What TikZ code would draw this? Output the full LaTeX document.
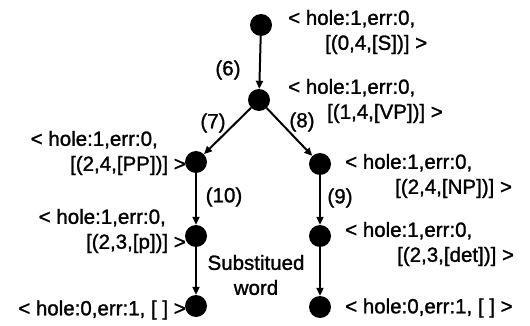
\documentclass[tikz,border=0pt]{standalone}
\usepackage{fontspec}
\setmainfont{Liberation Sans}[FakeBold=1.3]
\usetikzlibrary{arrows.meta}

\begin{document}
\begin{tikzpicture}[x=1pt,y=-1pt,
  every node/.style={font=\fontsize{20.5}{25}\selectfont,inner sep=0pt},
  state/.style={circle,fill=black,minimum size=22pt},
  edge/.style={-{Triangle[length=8pt,width=7pt]},line width=2pt}]
\useasboundingbox (0,0) rectangle (530,326);
% states
\node[state] (s) at (261,25) {};
\node[state] (vp) at (259,100) {};
\node[state] (pp) at (196,162) {};
\node[state] (p) at (196,236) {};
\node[state] (lw) at (196,306) {};
\node[state] (np) at (320,164) {};
\node[state] (det) at (320,236) {};
\node[state] (rw) at (320,307) {};
% state labels
\node[anchor=west,align=left] (ls) at (288,32) {< hole:1,err:0,\\\hspace*{37pt}[(0,4,[S])] >};
\node[anchor=west,align=left] (lvp) at (288,101) {< hole:1,err:0,\\\hspace*{39pt}[(1,4,[VP])] >};
\node[anchor=east,align=right] (lpp) at (186,153) {< hole:1,err:0,\hspace*{28pt}\\{}[(2,4,[PP])] >};
\node[anchor=east,align=right] (lp) at (186,231) {< hole:1,err:0,\hspace*{20pt}\\{}[(2,3,[p])] >};
\node[anchor=east] (llw) at (186,310) {< hole:0,err:1, [ ] >};
\node[anchor=west,align=left] (lnp) at (345,176) {< hole:1,err:0,\\\hspace*{50pt}[(2,4,[NP])] >};
\node[anchor=west,align=left] (ldet) at (345,244) {< hole:1,err:0,\\\hspace*{52pt}[(2,3,[det])] >};
\node[anchor=west] (lrw) at (345,308) {< hole:0,err:1, [ ] >};
% transitions
\draw[edge] (s) -- (vp);
\draw[edge] (vp) -- (pp);
\draw[edge] (vp) -- (np);
\draw[edge] (pp) -- (p);
\draw[edge] (p) -- (lw);
\draw[edge] (np) -- (det);
\draw[edge] (det) -- (rw);
\node (t6) at (228,70) {(6)};
\node (t7) at (213,123) {(7)};
\node (t8) at (302,122) {(8)};
\node (t10) at (224,197) {(10)};
\node (t9) at (340,198) {(9)};
\node[align=center] (sub) at (256,275) {Substitued\\word};
\end{tikzpicture}
\end{document}
